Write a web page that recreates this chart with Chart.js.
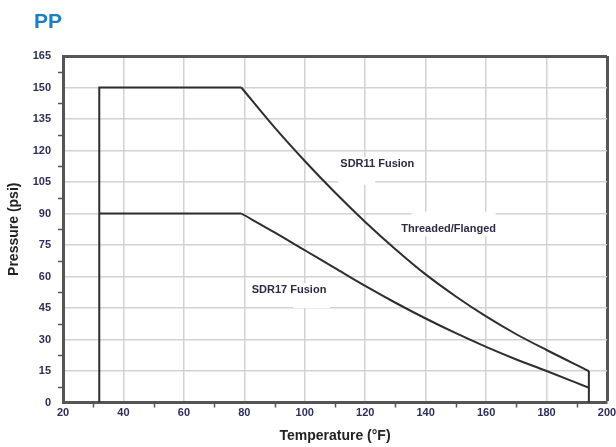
<!DOCTYPE html>
<html>
<head>
<meta charset="utf-8">
<script src="https://cdn.jsdelivr.net/npm/chart.js@4.4.0/dist/chart.umd.min.js"></script>
<style>
  html, body { margin: 0; padding: 0; background: #ffffff; }
  #wrap { position: relative; width: 616px; height: 447px; }
  #ppTitle {
    position: absolute; left: 34px; top: 10px;
    font: bold 21px "Liberation Sans", Arial, sans-serif; line-height: 1;
    color: #1b7fc3;
  }
  canvas { position: absolute; left: 0; top: 0; }
</style>
</head>
<body>
<div id="wrap">
  <canvas id="ppChart" width="616" height="447"></canvas>
  <div id="ppTitle">PP</div>
</div>
<script>
// ---- data ----
const sdr11Temp = [79, 90, 100, 110, 120, 130, 140, 150, 160, 170, 180, 194];
const sdr11Psi  = [150, 131, 115, 100, 86, 73, 61, 50.5, 41, 32.5, 25, 15];

const sdr17Temp = [79, 90, 100, 110, 120, 130, 140, 150, 160, 170, 180, 194];
const sdr17Psi  = [90, 81, 72.5, 64, 55.5, 47.5, 40, 33, 26.5, 20.5, 15, 7];

// straight parts of the envelope
const outlineTemp = [32, 32, 79];
const outlinePsi  = [0, 150, 150];
const sdr17FlatTemp = [32, 79];
const sdr17FlatPsi  = [90, 90];
const endTemp = [194, 194];
const endPsi  = [15, 0];

const tempMin = 20, tempMax = 200, tempStep = 20;
const psiMin = 0, psiMax = 165, psiStep = 15;

const curveLabels = ['SDR11 Fusion', 'Threaded/Flanged', 'SDR17 Fusion'];
const labelTemp = [124, 147.6, 94.8];
const labelPsi  = [113.7, 82.4, 53.5];

// white boxes behind the labels (px, relative to label centre)
const LABEL_BOXES = [
  [[-42, -7, 84, 14], [-39, 6, 37, 15]],
  [[-53, -7, 106, 14], [-37, -18, 84, 12]],
  [[-42, -7, 84, 14], [4, 6, 37, 12]]
];

const LINE_COLOR = '#2e2e2e';
const FRAME_COLOR = '#555555';
const GRID_COLOR = '#d2d2d2';
const TICK_COLOR = '#2d2f5a';
const FONT = '"Liberation Sans", Arial, sans-serif';

const pts = (xs, ys) => xs.map((x, i) => ({ x, y: ys[i] }));

const lineStyle = {
  borderColor: LINE_COLOR,
  borderWidth: 2,
  pointRadius: 0,
  fill: false,
  tension: 0
};

// labels with white backing + minor ticks
const decorPlugin = {
  id: 'decor',
  beforeDatasetsDraw(chart) {
    const { ctx } = chart;
    const xs = chart.scales.x, ys = chart.scales.y;
    ctx.save();
    ctx.fillStyle = '#ffffff';
    curveLabels.forEach((t, i) => {
      const cx = xs.getPixelForValue(labelTemp[i]);
      const cy = ys.getPixelForValue(labelPsi[i]);
      LABEL_BOXES[i].forEach(b => ctx.fillRect(cx + b[0], cy + b[1], b[2], b[3]));
    });
    ctx.restore();
  },
  afterDraw(chart) {
    const { ctx } = chart;
    const xs = chart.scales.x, ys = chart.scales.y;
    ctx.save();
    ctx.font = 'bold 11px ' + FONT;
    ctx.fillStyle = '#2b2b45';
    ctx.textAlign = 'center';
    ctx.textBaseline = 'middle';
    curveLabels.forEach((t, i) => {
      ctx.fillText(t, xs.getPixelForValue(labelTemp[i]), ys.getPixelForValue(labelPsi[i]));
    });

    // minor ticks halfway between the major ones
    ctx.strokeStyle = FRAME_COLOR;
    ctx.lineWidth = 1.5;
    ctx.beginPath();
    for (let v = psiMin + psiStep / 2; v < psiMax; v += psiStep) {
      const y = Math.round(ys.getPixelForValue(v)) + 0.5;
      ctx.moveTo(ys.right - 5, y);
      ctx.lineTo(ys.right - 1, y);
    }
    for (let v = tempMin + tempStep / 2; v < tempMax; v += tempStep) {
      const x = Math.round(xs.getPixelForValue(v)) + 0.5;
      ctx.moveTo(x, xs.top + 1);
      ctx.lineTo(x, xs.top + 5);
    }
    ctx.stroke();
    ctx.restore();
  }
};

new Chart(document.getElementById('ppChart'), {
  type: 'line',
  data: {
    datasets: [
      { label: 'outline', data: pts(outlineTemp, outlinePsi), ...lineStyle },
      { label: 'SDR11', data: pts(sdr11Temp, sdr11Psi), ...lineStyle, cubicInterpolationMode: 'monotone' },
      { label: 'end', data: pts(endTemp, endPsi), ...lineStyle },
      { label: 'SDR17 flat', data: pts(sdr17FlatTemp, sdr17FlatPsi), ...lineStyle },
      { label: 'SDR17', data: pts(sdr17Temp, sdr17Psi), ...lineStyle, cubicInterpolationMode: 'monotone' }
    ]
  },
  options: {
    responsive: false,
    animation: false,
    devicePixelRatio: 1,
    layout: { padding: { top: 56, right: 9, bottom: 0, left: 0 } },
    plugins: {
      legend: { display: false },
      tooltip: { enabled: false },
      title: { display: false }
    },
    scales: {
      x: {
        type: 'linear',
        min: tempMin, max: tempMax,
        afterFit: s => { s.height = 44.5; s.paddingRight = 0; s.paddingLeft = 0; },
        ticks: {
          stepSize: tempStep,
          color: TICK_COLOR,
          padding: 4,
          font: { family: FONT, size: 11, weight: 'bold' }
        },
        grid: {
          drawTicks: false,
          color: c => c.tick && c.tick.value === tempMax ? FRAME_COLOR : GRID_COLOR,
          lineWidth: c => c.tick && c.tick.value === tempMax ? 3 : 1.5
        },
        border: { color: FRAME_COLOR, width: 3 },
        title: {
          display: true,
          text: 'Temperature (°F)',
          color: '#222222',
          padding: { top: 0, bottom: 2 },
          font: { family: FONT, size: 14, weight: 'bold' }
        }
      },
      y: {
        min: psiMin, max: psiMax,
        afterFit: s => { s.width = 63; },
        ticks: {
          stepSize: psiStep,
          color: TICK_COLOR,
          padding: 12,
          font: { family: FONT, size: 11, weight: 'bold' }
        },
        grid: {
          drawTicks: false,
          color: c => c.tick && c.tick.value === psiMax ? FRAME_COLOR : GRID_COLOR,
          lineWidth: c => c.tick && c.tick.value === psiMax ? 3 : 1.5
        },
        border: { color: FRAME_COLOR, width: 3 },
        title: {
          display: true,
          text: 'Pressure (psi)',
          color: '#222222',
          padding: { top: 6, bottom: 0 },
          font: { family: FONT, size: 14, weight: 'bold' }
        }
      }
    }
  },
  plugins: [decorPlugin]
});
</script>
</body>
</html>
